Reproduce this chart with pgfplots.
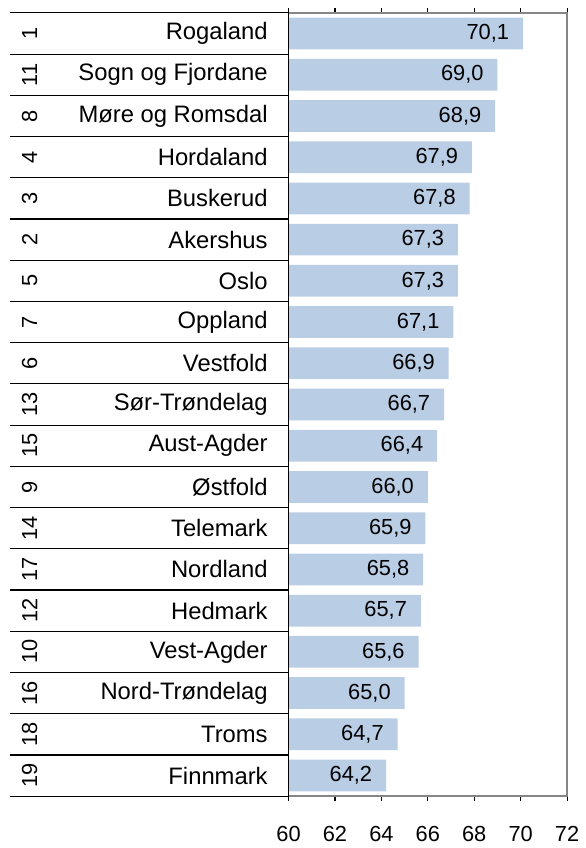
\documentclass[border=0pt]{standalone}
\usepackage{pgfplots}
\pgfplotsset{compat=1.18}
\usepackage{pgfplotstable}
\usepackage{fontspec}
\setmainfont{Liberation Sans}
\definecolor{barblue}{HTML}{B9CDE5}
\definecolor{framegray}{HTML}{868686}

\pgfplotstableread{
pos val lab name
0 70.1 {70,1} Rogaland
1 69.0 {69,0} {Sogn og Fjordane}
2 68.9 {68,9} {Møre og Romsdal}
3 67.9 {67,9} Hordaland
4 67.8 {67,8} Buskerud
5 67.3 {67,3} Akershus
6 67.3 {67,3} Oslo
7 67.1 {67,1} Oppland
8 66.9 {66,9} Vestfold
9 66.7 {66,7} Sør-Trøndelag
10 66.4 {66,4} Aust-Agder
11 66.0 {66,0} Østfold
12 65.9 {65,9} Telemark
13 65.8 {65,8} Nordland
14 65.7 {65,7} Hedmark
15 65.6 {65,6} Vest-Agder
16 65.0 {65,0} Nord-Trøndelag
17 64.7 {64,7} Troms
18 64.2 {64,2} Finnmark
}\data

\begin{document}
\begin{tikzpicture}
\begin{axis}[
  scale only axis,
  width=140.5pt, height=395pt,
  xbar, bar width=16pt,
  xmin=60, xmax=72,
  ymin=-0.5, ymax=18.5,
  y dir=reverse,
  xtick={60,62,...,72},
  ytick={0,...,18},
  yticklabels from table={\data}{name},
  yticklabel style={font=\fontsize{12}{14}\selectfont, anchor=east, xshift=-4.5pt},
  xticklabel style={font=\fontsize{11}{13}\selectfont, yshift=-9pt},
  /pgf/number format/assume math mode=true,
  major y tick style={draw=none},
  x tick style={black, line width=0.6pt},
  tick align=outside,
  major tick length=2.5pt,
  axis line style={framegray, line width=0.9pt},
  clip=false,
  nodes near coords,
  point meta=explicit symbolic,
  every node near coord/.append style={font=\fontsize{11}{13}\selectfont, anchor=east, xshift=-3.5pt, black},
]
\addplot[fill=barblue, draw=none] table[x=val, y=pos, meta=lab] {\data};
\pgfplotsinvokeforeach{-0.5,0.5,...,18.5}{
  \draw[black, line width=0.6pt] ([xshift=-140.5pt]axis cs:60,#1) -- (axis cs:60,#1);
}
\draw[black, line width=0.7pt] (axis cs:60,-0.5) -- (axis cs:60,18.5);
\begin{scope}[every node/.style={rotate=90, font=\fontsize{11}{13}\selectfont}]
\node at ([xshift=-130.5pt]axis cs:60,0) {1};
\node at ([xshift=-130.5pt]axis cs:60,1) {11};
\node at ([xshift=-130.5pt]axis cs:60,2) {8};
\node at ([xshift=-130.5pt]axis cs:60,3) {4};
\node at ([xshift=-130.5pt]axis cs:60,4) {3};
\node at ([xshift=-130.5pt]axis cs:60,5) {2};
\node at ([xshift=-130.5pt]axis cs:60,6) {5};
\node at ([xshift=-130.5pt]axis cs:60,7) {7};
\node at ([xshift=-130.5pt]axis cs:60,8) {6};
\node at ([xshift=-130.5pt]axis cs:60,9) {13};
\node at ([xshift=-130.5pt]axis cs:60,10) {15};
\node at ([xshift=-130.5pt]axis cs:60,11) {9};
\node at ([xshift=-130.5pt]axis cs:60,12) {14};
\node at ([xshift=-130.5pt]axis cs:60,13) {17};
\node at ([xshift=-130.5pt]axis cs:60,14) {12};
\node at ([xshift=-130.5pt]axis cs:60,15) {10};
\node at ([xshift=-130.5pt]axis cs:60,16) {16};
\node at ([xshift=-130.5pt]axis cs:60,17) {18};
\node at ([xshift=-130.5pt]axis cs:60,18) {19};
\end{scope}
\end{axis}
\path ([xshift=-145.5pt,yshift=-22.5pt]current axis.south west) rectangle ([xshift=5.5pt,yshift=6.5pt]current axis.north east);
\end{tikzpicture}
\end{document}
